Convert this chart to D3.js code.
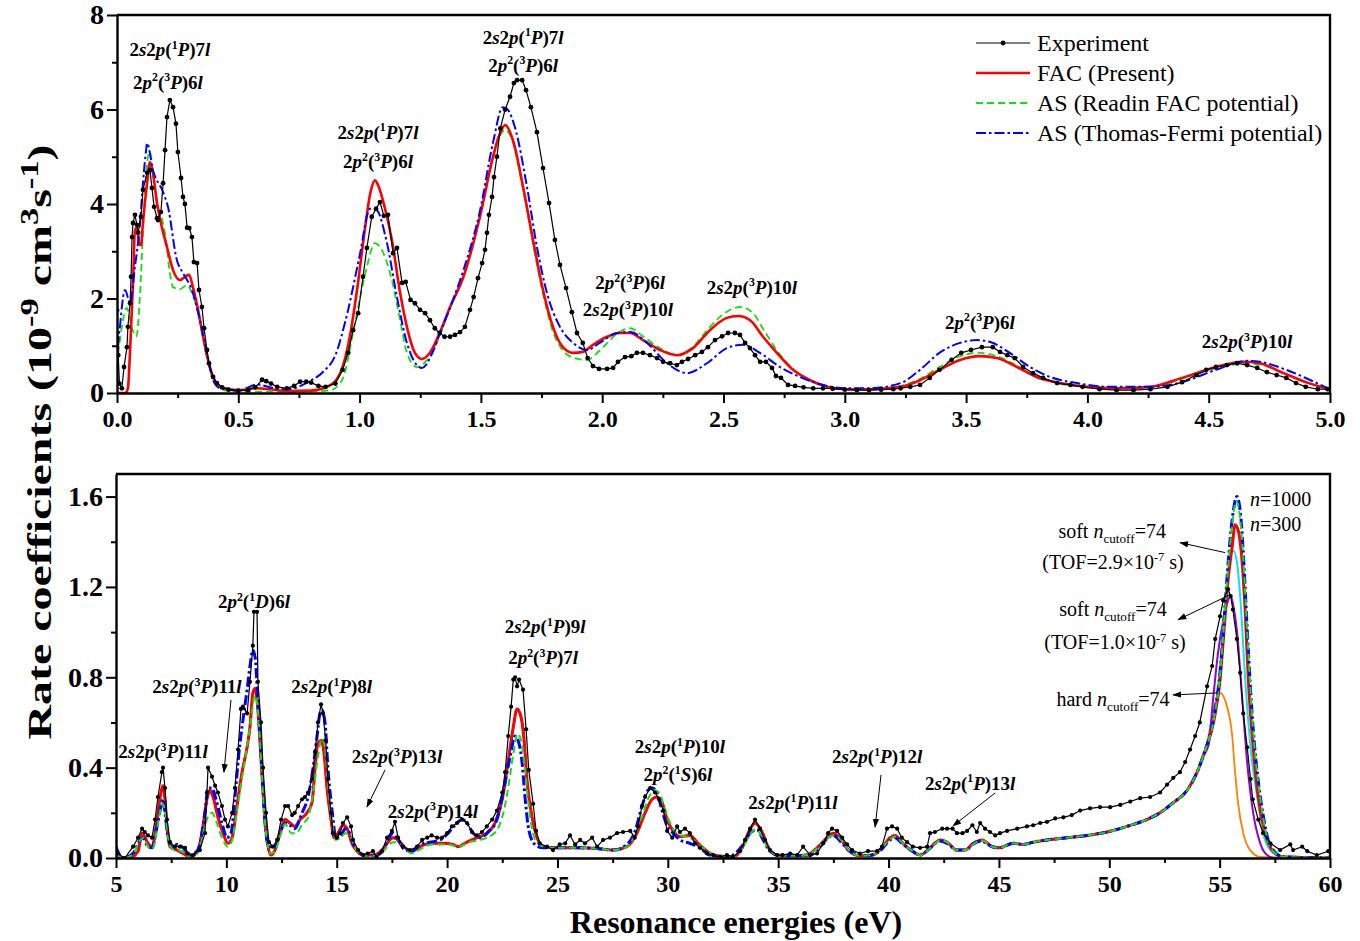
<!DOCTYPE html>
<html>
<head>
<meta charset="utf-8">
<script src="https://cdn.jsdelivr.net/npm/d3@7"></script>
<style>
  body { margin: 0; background: #fff; }
  svg { font-family: "Liberation Serif", "Times New Roman", serif; }
</style>
</head>
<body>
<svg id="chart" width="1360" height="941"></svg>
<script>
// ---- data: [energy (eV), rate (1e-9 cm3/s)] ----
const topExp = [[0,1.75],[0.005,0.8],[0.01,0.2],[0.02,0.1],[0.029,0.55],[0.041,0.97],[0.045,1.4],[0.054,1.9],[0.058,2.46],[0.062,3.3],[0.066,3.6],[0.074,3.77],[0.082,3.56],[0.087,3.39],[0.099,3.73],[0.107,4.3],[0.124,4.66],[0.136,4.72],[0.144,4.34],[0.153,3.94],[0.165,3.7],[0.169,3.66],[0.181,3.83],[0.19,4.44],[0.198,5.14],[0.206,5.84],[0.218,6.2],[0.231,6.05],[0.243,5.7],[0.251,5.1],[0.264,4.55],[0.272,4.15],[0.28,4.0],[0.289,3.5],[0.298,3.49],[0.309,3.3],[0.317,2.77],[0.33,2.75],[0.338,2.18],[0.35,1.82],[0.359,1.37],[0.371,0.91],[0.379,0.63],[0.396,0.34],[0.412,0.21],[0.433,0.12],[0.46,0.07],[0.5,0.05],[0.54,0.06],[0.57,0.12],[0.598,0.28],[0.615,0.25],[0.635,0.2],[0.66,0.13],[0.7,0.1],[0.73,0.15],[0.755,0.24],[0.78,0.24],[0.8,0.22],[0.83,0.15],[0.86,0.13],[0.9,0.2],[0.93,0.49],[0.953,0.85],[0.973,1.33],[0.994,1.69],[1.014,2.46],[1.03,3.07],[1.05,3.73],[1.068,3.9],[1.084,4.04],[1.1,3.75],[1.117,3.77],[1.138,2.96],[1.154,3.07],[1.175,2.33],[1.19,2.35],[1.21,1.97],[1.228,1.9],[1.249,1.76],[1.27,1.69],[1.29,1.54],[1.31,1.37],[1.33,1.27],[1.35,1.19],[1.373,1.19],[1.393,1.23],[1.414,1.29],[1.434,1.4],[1.455,1.76],[1.47,2.03],[1.488,2.43],[1.505,2.75],[1.517,3.03],[1.525,3.39],[1.533,3.77],[1.546,4.15],[1.554,4.57],[1.566,5.0],[1.58,5.6],[1.6,6.0],[1.62,6.27],[1.636,6.56],[1.649,6.62],[1.67,6.62],[1.686,6.41],[1.706,6.05],[1.731,5.52],[1.756,4.76],[1.781,4.02],[1.805,3.24],[1.826,2.71],[1.851,2.22],[1.875,1.71],[1.896,1.27],[1.92,1.06],[1.94,0.74],[1.962,0.57],[1.987,0.51],[2.02,0.51],[2.045,0.53],[2.065,0.66],[2.094,0.76],[2.12,0.78],[2.143,0.85],[2.168,0.85],[2.197,0.8],[2.226,0.74],[2.251,0.66],[2.28,0.63],[2.308,0.59],[2.329,0.66],[2.354,0.72],[2.383,0.8],[2.411,0.87],[2.436,0.97],[2.465,1.12],[2.494,1.2],[2.519,1.27],[2.547,1.27],[2.568,1.23],[2.589,1.06],[2.609,0.95],[2.63,0.8],[2.651,0.66],[2.675,0.66],[2.7,0.53],[2.716,0.36],[2.737,0.32],[2.766,0.17],[2.795,0.15],[2.83,0.12],[2.87,0.1],[2.91,0.1],[2.95,0.09],[3.0,0.07],[3.05,0.06],[3.1,0.06],[3.15,0.07],[3.2,0.08],[3.23,0.1],[3.27,0.13],[3.31,0.17],[3.35,0.32],[3.39,0.49],[3.44,0.7],[3.48,0.85],[3.52,0.91],[3.565,0.97],[3.61,0.97],[3.64,0.87],[3.67,0.8],[3.7,0.74],[3.735,0.55],[3.776,0.42],[3.817,0.32],[3.875,0.21],[3.93,0.17],[3.98,0.13],[4.05,0.08],[4.12,0.06],[4.19,0.06],[4.26,0.08],[4.33,0.13],[4.39,0.23],[4.45,0.38],[4.49,0.49],[4.53,0.55],[4.575,0.59],[4.617,0.63],[4.658,0.59],[4.7,0.53],[4.74,0.44],[4.78,0.38],[4.82,0.32],[4.86,0.21],[4.9,0.13],[4.95,0.08],[4.99,0.08]];

const topFac = [[0,0],[0.035,0],[0.045,0.1],[0.054,0.91],[0.066,2.33],[0.074,3.45],[0.082,3.5],[0.092,3.15],[0.099,3.13],[0.107,3.6],[0.124,4.44],[0.136,4.89],[0.148,4.66],[0.165,4.02],[0.185,3.51],[0.206,3.09],[0.231,2.6],[0.26,2.39],[0.28,2.46],[0.297,2.5],[0.313,2.24],[0.334,1.76],[0.355,1.19],[0.375,0.7],[0.396,0.34],[0.416,0.17],[0.445,0.1],[0.495,0.06],[0.577,0.1],[0.63,0.08],[0.7,0.04],[0.8,0.05],[0.85,0.1],[0.9,0.25],[0.93,0.55],[0.96,1.2],[0.99,2.2],[1.02,3.4],[1.045,4.25],[1.063,4.5],[1.08,4.35],[1.1,4.0],[1.133,3.24],[1.167,2.12],[1.195,1.4],[1.228,0.85],[1.257,0.72],[1.29,0.85],[1.33,1.27],[1.373,1.82],[1.428,2.46],[1.496,3.73],[1.55,5.0],[1.575,5.45],[1.6,5.67],[1.632,5.35],[1.674,4.36],[1.715,3.24],[1.756,2.18],[1.797,1.4],[1.838,0.97],[1.88,0.85],[1.92,0.87],[1.962,1.02],[2.02,1.19],[2.073,1.27],[2.115,1.27],[2.168,1.12],[2.238,0.91],[2.308,0.8],[2.374,0.95],[2.444,1.33],[2.514,1.59],[2.56,1.63],[2.61,1.54],[2.663,1.19],[2.72,0.85],[2.787,0.49],[2.857,0.27],[2.927,0.13],[3.0,0.08],[3.1,0.08],[3.23,0.13],[3.31,0.27],[3.39,0.49],[3.475,0.7],[3.557,0.78],[3.627,0.74],[3.71,0.55],[3.79,0.34],[3.887,0.21],[4.0,0.13],[4.12,0.1],[4.26,0.13],[4.39,0.32],[4.53,0.55],[4.64,0.66],[4.71,0.63],[4.8,0.44],[4.9,0.23],[5.0,0.08]];

const topAsReadin = [[0,0.6],[0.02,1.4],[0.04,1.8],[0.06,1.4],[0.08,1.2],[0.095,2.1],[0.107,3.4],[0.124,4.87],[0.135,5.1],[0.15,4.6],[0.165,4.0],[0.185,3.7],[0.2,3.3],[0.218,2.54],[0.231,2.24],[0.26,2.2],[0.289,2.28],[0.31,2.1],[0.334,1.7],[0.355,1.15],[0.375,0.65],[0.396,0.3],[0.42,0.12],[0.45,0.05],[0.5,0.02],[0.6,0.03],[0.7,0.02],[0.8,0.03],[0.88,0.06],[0.93,0.3],[0.973,1.27],[1.0,1.97],[1.03,2.67],[1.063,3.17],[1.098,2.96],[1.133,2.39],[1.167,1.54],[1.195,0.85],[1.236,0.55],[1.278,0.7],[1.33,1.2],[1.373,1.82],[1.428,2.46],[1.496,3.73],[1.55,5.0],[1.575,5.4],[1.6,5.57],[1.632,5.3],[1.674,4.3],[1.715,3.15],[1.756,2.1],[1.797,1.3],[1.838,0.9],[1.88,0.75],[1.937,0.7],[1.99,0.9],[2.06,1.25],[2.115,1.37],[2.168,1.2],[2.238,0.95],[2.308,0.8],[2.374,0.98],[2.444,1.4],[2.514,1.72],[2.568,1.82],[2.62,1.7],[2.67,1.3],[2.72,0.9],[2.787,0.5],[2.857,0.27],[2.927,0.13],[3.0,0.08],[3.1,0.08],[3.23,0.15],[3.31,0.3],[3.39,0.55],[3.475,0.78],[3.557,0.85],[3.627,0.78],[3.71,0.58],[3.79,0.36],[3.887,0.2],[4.0,0.12],[4.12,0.09],[4.26,0.12],[4.39,0.3],[4.53,0.52],[4.64,0.62],[4.71,0.6],[4.8,0.44],[4.9,0.23],[5.0,0.08]];

const topAsTF = [[0,0.2],[0.005,1.0],[0.012,1.4],[0.033,2.18],[0.054,1.9],[0.074,2.67],[0.095,3.6],[0.107,4.44],[0.12,5.14],[0.124,5.29],[0.148,4.72],[0.19,4.25],[0.21,3.94],[0.247,2.81],[0.272,2.54],[0.309,2.18],[0.342,1.54],[0.371,0.85],[0.396,0.27],[0.425,0.1],[0.5,0.05],[0.577,0.18],[0.65,0.1],[0.7,0.08],[0.795,0.25],[0.85,0.45],[0.9,0.8],[0.95,1.7],[1.0,2.9],[1.043,3.9],[1.07,3.87],[1.11,3.24],[1.154,2.03],[1.195,1.06],[1.257,0.53],[1.3,0.85],[1.33,1.25],[1.38,1.9],[1.428,2.6],[1.496,3.85],[1.55,5.3],[1.59,6.05],[1.61,6.0],[1.64,5.63],[1.69,4.36],[1.731,3.09],[1.772,2.12],[1.826,1.4],[1.88,1.06],[1.937,0.91],[1.99,1.06],[2.06,1.27],[2.115,1.29],[2.185,1.06],[2.267,0.63],[2.35,0.42],[2.432,0.63],[2.514,0.95],[2.58,1.02],[2.65,0.85],[2.733,0.55],[2.815,0.34],[2.927,0.15],[3.0,0.1],[3.1,0.1],[3.23,0.21],[3.31,0.49],[3.39,0.85],[3.475,1.06],[3.545,1.12],[3.6,1.08],[3.68,0.85],[3.763,0.55],[3.846,0.34],[3.957,0.21],[4.09,0.13],[4.26,0.13],[4.39,0.23],[4.53,0.49],[4.66,0.68],[4.71,0.66],[4.82,0.49],[4.92,0.27],[5.0,0.08]];

const botExp = [[5.05,0.02],[5.4,0.0],[5.77,0.05],[6.0,0.09],[6.18,0.13],[6.3,0.115],[6.45,0.1],[6.63,0.09],[6.77,0.17],[6.9,0.27],[7.08,0.38],[7.13,0.4],[7.22,0.31],[7.31,0.17],[7.45,0.07],[7.67,0.05],[7.9,0.05],[8.13,0.045],[8.26,0.02],[8.49,0.013],[8.8,0.035],[9.03,0.11],[9.12,0.29],[9.17,0.4],[9.35,0.36],[9.49,0.32],[9.62,0.29],[9.8,0.23],[9.94,0.17],[10.07,0.14],[10.26,0.2],[10.39,0.31],[10.53,0.48],[10.66,0.66],[10.75,0.67],[10.94,0.64],[11.07,0.78],[11.2,0.94],[11.25,1.09],[11.39,1.09],[11.43,0.78],[11.57,0.6],[11.66,0.4],[11.8,0.2],[11.93,0.07],[12.11,0.05],[12.3,0.08],[12.48,0.17],[12.66,0.23],[12.8,0.23],[12.98,0.19],[13.1,0.2],[13.25,0.23],[13.43,0.26],[13.56,0.27],[13.7,0.29],[13.88,0.35],[14.02,0.47],[14.15,0.6],[14.29,0.68],[14.38,0.64],[14.5,0.52],[14.6,0.35],[14.74,0.2],[14.83,0.11],[15.0,0.09],[15.15,0.11],[15.28,0.155],[15.47,0.18],[15.65,0.14],[15.74,0.08],[15.97,0.035],[16.2,0.013],[16.4,0.02],[16.64,0.03],[16.8,0.005],[17.05,0.03],[17.28,0.09],[17.5,0.12],[17.64,0.16],[17.78,0.09],[18.0,0.05],[18.32,0.035],[18.64,0.05],[18.87,0.08],[19.1,0.09],[19.3,0.1],[19.55,0.09],[19.77,0.09],[20.0,0.11],[20.22,0.14],[20.45,0.155],[20.68,0.17],[20.9,0.155],[21.13,0.115],[21.36,0.1],[21.58,0.115],[21.8,0.14],[22.04,0.17],[22.26,0.21],[22.5,0.29],[22.63,0.38],[22.77,0.54],[22.9,0.67],[23.0,0.79],[23.08,0.8],[23.17,0.76],[23.26,0.79],[23.44,0.745],[23.58,0.57],[23.7,0.39],[23.9,0.24],[24.03,0.12],[24.2,0.065],[24.53,0.05],[24.8,0.035],[25.1,0.06],[25.35,0.065],[25.57,0.1],[25.8,0.06],[26.03,0.08],[26.25,0.065],[26.57,0.09],[26.8,0.05],[27.07,0.08],[27.38,0.09],[27.7,0.11],[27.97,0.115],[28.3,0.12],[28.5,0.09],[28.65,0.14],[28.83,0.23],[28.97,0.27],[29.2,0.31],[29.42,0.29],[29.6,0.26],[29.8,0.21],[29.97,0.12],[30.2,0.09],[30.42,0.14],[30.55,0.115],[30.78,0.13],[31.0,0.11],[31.23,0.065],[31.46,0.045],[31.78,0.02],[32.05,0.013],[32.37,0.005],[32.68,0.013],[32.95,0.005],[33.27,0.03],[33.5,0.08],[33.73,0.13],[33.95,0.17],[34.18,0.13],[34.4,0.08],[34.63,0.035],[34.95,0.013],[35.2,0.013],[35.54,0.02],[35.86,0.013],[36.13,0.05],[36.45,0.013],[36.76,0.02],[37.04,0.065],[37.26,0.11],[37.44,0.13],[37.67,0.12],[37.9,0.09],[38.12,0.06],[38.35,0.035],[38.7,0.02],[39.07,0.03],[39.48,0.03],[39.7,0.05],[39.93,0.13],[40.16,0.14],[40.39,0.13],[40.6,0.09],[40.84,0.07],[41.1,0.05],[41.43,0.045],[41.75,0.05],[41.88,0.11],[42.1,0.115],[42.43,0.13],[42.65,0.13],[42.9,0.13],[43.1,0.11],[43.35,0.11],[43.56,0.12],[43.8,0.145],[44.0,0.115],[44.15,0.155],[44.37,0.13],[44.6,0.115],[44.83,0.1],[45.05,0.11],[45.37,0.12],[45.83,0.13],[46.27,0.14],[46.55,0.145],[46.87,0.155],[47.18,0.16],[47.55,0.175],[47.92,0.18],[48.3,0.19],[48.68,0.21],[49.13,0.22],[49.58,0.225],[50.04,0.225],[50.5,0.235],[50.95,0.25],[51.4,0.265],[51.85,0.27],[52.3,0.29],[52.62,0.325],[52.9,0.355],[53.2,0.38],[53.44,0.425],[53.66,0.48],[53.89,0.54],[54.1,0.6],[54.43,0.76],[54.66,0.85],[54.8,0.97],[55.02,1.07],[55.16,1.14],[55.38,1.19],[55.5,1.16],[55.6,1.1],[55.78,0.97],[55.93,0.82],[56.07,0.64],[56.25,0.49],[56.4,0.35],[56.5,0.26],[56.75,0.17],[56.97,0.11],[57.3,0.065],[57.74,0.035],[58.2,0.06],[58.33,0.035],[58.74,0.05],[58.97,0.03],[59.4,0.013],[59.92,0.03]];

const botFacHead = [[5.0,0.0],[5.6,0.0],[6.0,0.03],[6.18,0.11],[6.45,0.065],[6.63,0.05],[6.86,0.17],[7.0,0.27],[7.13,0.32],[7.22,0.26],[7.31,0.14],[7.45,0.05],[7.76,0.035],[8.04,0.02],[8.35,0.005],[8.7,0.03],[8.94,0.14],[9.12,0.26],[9.26,0.3],[9.4,0.27],[9.62,0.18],[9.85,0.11],[10.07,0.065],[10.26,0.09],[10.48,0.23],[10.71,0.38],[10.94,0.49],[11.07,0.58],[11.2,0.73],[11.3,0.75],[11.39,0.7],[11.52,0.52],[11.66,0.29],[11.84,0.08],[12.02,0.013],[12.2,0.035],[12.43,0.11],[12.66,0.17],[12.88,0.155],[13.1,0.14],[13.34,0.17],[13.65,0.2],[13.88,0.245],[14.02,0.4],[14.15,0.51],[14.29,0.52],[14.42,0.47],[14.56,0.31],[14.74,0.17],[14.88,0.09],[15.06,0.11],[15.28,0.145],[15.47,0.13],[15.69,0.065],[15.92,0.03],[16.2,0.013],[16.64,0.013],[17.05,0.035],[17.28,0.065],[17.55,0.09],[17.78,0.08],[18.1,0.045],[18.41,0.03],[18.77,0.05],[19.23,0.065],[19.82,0.065],[20.27,0.06],[20.5,0.05],[20.9,0.07],[21.36,0.09],[21.8,0.11],[22.17,0.155],[22.5,0.26],[22.77,0.43],[23.0,0.58],[23.17,0.66],[23.35,0.625],[23.49,0.52],[23.62,0.345],[23.85,0.18],[24.08,0.09],[24.35,0.05],[24.98,0.045],[26.0,0.045],[27.0,0.04],[27.52,0.035],[28.15,0.05],[28.6,0.11],[28.97,0.2],[29.29,0.26],[29.5,0.27],[29.74,0.245],[29.97,0.17],[30.24,0.12],[30.55,0.095],[31.0,0.1],[31.37,0.065],[31.78,0.03],[32.23,0.01],[32.95,0.005],[33.37,0.045],[33.64,0.11],[33.95,0.155],[34.27,0.115],[34.54,0.05],[34.95,0.013],[35.68,0.01],[36.3,0.013],[36.76,0.045],[37.22,0.09],[37.48,0.11],[37.8,0.09],[38.17,0.035],[38.7,0.01],[39.3,0.013],[39.7,0.045],[40.07,0.09],[40.3,0.1],[40.6,0.07],[41.07,0.03],[41.43,0.013],[41.88,0.045],[42.34,0.08],[42.65,0.07],[43.1,0.035],[43.47,0.035],[43.83,0.065],[44.24,0.08],[44.7,0.05],[45.05,0.045]];

const botAsReadinHead = [[5.0,0.02],[5.4,0.0],[5.8,0.02],[6.1,0.08],[6.25,0.09],[6.45,0.05],[6.65,0.04],[6.9,0.15],[7.1,0.24],[7.2,0.22],[7.35,0.1],[7.55,0.04],[8.0,0.03],[8.4,0.0],[8.75,0.03],[9.0,0.13],[9.2,0.19],[9.35,0.2],[9.55,0.16],[9.8,0.09],[10.07,0.05],[10.26,0.08],[10.5,0.22],[10.75,0.38],[10.95,0.5],[11.1,0.6],[11.3,0.72],[11.4,0.68],[11.55,0.48],[11.7,0.22],[11.85,0.07],[12.0,0.02],[12.2,0.03],[12.45,0.1],[12.66,0.15],[12.95,0.11],[13.15,0.11],[13.45,0.15],[13.7,0.18],[13.95,0.3],[14.15,0.45],[14.33,0.53],[14.45,0.5],[14.6,0.33],[14.8,0.15],[14.95,0.08],[15.15,0.09],[15.4,0.11],[15.6,0.1],[15.8,0.05],[16.2,0.01],[16.8,0.01],[17.2,0.04],[17.55,0.07],[17.8,0.07],[18.1,0.04],[18.4,0.02],[18.8,0.04],[19.3,0.06],[20.0,0.06],[20.5,0.05],[21.0,0.07],[21.5,0.08],[22.0,0.1],[22.3,0.13],[22.55,0.2],[22.8,0.33],[23.0,0.46],[23.2,0.55],[23.35,0.52],[23.5,0.42],[23.65,0.27],[23.85,0.13],[24.05,0.07],[24.4,0.05],[25.0,0.045],[26.0,0.045],[27.0,0.04],[27.5,0.035],[28.15,0.05],[28.5,0.1],[28.85,0.19],[29.15,0.27],[29.4,0.3],[29.6,0.29],[29.8,0.24],[30.0,0.18],[30.3,0.12],[30.6,0.1],[31.0,0.09],[31.4,0.06],[31.8,0.03],[32.3,0.01],[33.0,0.005],[33.4,0.045],[33.7,0.1],[33.95,0.125],[34.25,0.1],[34.55,0.045],[35.0,0.013],[35.7,0.01],[36.3,0.013],[36.8,0.045],[37.25,0.09],[37.48,0.1],[37.8,0.085],[38.2,0.035],[38.7,0.01],[39.3,0.013],[39.7,0.045],[40.1,0.085],[40.3,0.095],[40.6,0.07],[41.1,0.03],[41.45,0.013],[41.9,0.045],[42.35,0.078],[42.65,0.07],[43.1,0.035],[43.5,0.035],[43.85,0.062],[44.25,0.078],[44.7,0.05],[45.05,0.045]];

const botAsTFHead = [[5.0,0.05],[5.3,0.0],[5.77,0.02],[6.09,0.08],[6.22,0.09],[6.45,0.05],[6.63,0.045],[6.86,0.14],[7.04,0.23],[7.13,0.26],[7.22,0.2],[7.36,0.09],[7.58,0.05],[7.76,0.06],[7.99,0.05],[8.35,0.013],[8.7,0.035],[9.03,0.2],[9.17,0.31],[9.35,0.31],[9.53,0.26],[9.8,0.155],[10.03,0.09],[10.21,0.11],[10.39,0.27],[10.57,0.465],[10.75,0.61],[10.94,0.745],[11.07,0.85],[11.2,0.92],[11.3,0.89],[11.43,0.69],[11.62,0.38],[11.75,0.155],[11.93,0.05],[12.2,0.05],[12.43,0.11],[12.66,0.155],[12.88,0.145],[13.1,0.13],[13.43,0.2],[13.7,0.27],[13.93,0.4],[14.11,0.54],[14.24,0.64],[14.33,0.655],[14.47,0.6],[14.6,0.4],[14.79,0.21],[14.97,0.09],[15.15,0.09],[15.38,0.13],[15.56,0.115],[15.74,0.065],[15.97,0.03],[16.37,0.01],[16.83,0.013],[17.19,0.05],[17.32,0.08],[17.55,0.11],[17.78,0.08],[18.1,0.035],[18.41,0.03],[18.77,0.06],[19.23,0.07],[19.68,0.08],[20.04,0.11],[20.36,0.145],[20.68,0.17],[20.9,0.155],[21.18,0.11],[21.5,0.09],[21.86,0.115],[22.26,0.17],[22.54,0.29],[22.86,0.45],[23.08,0.54],[23.22,0.52],[23.4,0.42],[23.53,0.27],[23.71,0.12],[23.98,0.06],[24.35,0.045],[25.0,0.045],[26.0,0.045],[27.0,0.04],[27.52,0.035],[28.15,0.06],[28.52,0.12],[28.83,0.23],[29.1,0.3],[29.29,0.31],[29.5,0.29],[29.74,0.21],[29.97,0.14],[30.24,0.11],[30.55,0.08],[31.0,0.065],[31.46,0.045],[31.91,0.013],[32.68,0.005],[33.42,0.06],[33.73,0.11],[34.04,0.125],[34.32,0.08],[34.63,0.03],[35.09,0.01],[36.45,0.013],[36.9,0.05],[37.26,0.09],[37.48,0.1],[37.9,0.065],[38.26,0.03],[39.0,0.01],[39.6,0.03],[40.07,0.08],[40.3,0.09],[40.6,0.065],[41.1,0.03],[41.4,0.013],[41.9,0.045],[42.3,0.075],[42.65,0.065],[43.1,0.035],[43.5,0.035],[43.8,0.06],[44.2,0.075],[44.7,0.05],[45.05,0.045]];

// smooth rise shared by all calculations between 45 and 54 eV
const botTail = [[45.2,0.05],[45.65,0.065],[46.1,0.06],[46.55,0.07],[47.18,0.08],[48.1,0.09],[49.0,0.1],[49.9,0.115],[50.8,0.14],[51.7,0.17],[52.3,0.2],[52.9,0.245],[53.53,0.3],[53.98,0.38],[54.25,0.45]];

const botFacPeak = [[54.8,0.64],[55.02,0.79],[55.2,1.01],[55.38,1.23],[55.57,1.38],[55.7,1.475],[55.84,1.45],[56.02,1.31],[56.16,1.09],[56.3,0.79],[56.52,0.49],[56.75,0.27],[57.06,0.11],[57.38,0.035],[57.88,0.005],[60,0]];
const botAsReadinPeak = [[54.8,0.65],[55.02,0.81],[55.2,1.04],[55.38,1.28],[55.57,1.48],[55.75,1.58],[55.93,1.5],[56.1,1.28],[56.25,1.0],[56.52,0.56],[56.75,0.33],[56.97,0.18],[57.2,0.07],[57.43,0.03],[57.9,0.005],[60,0]];
const botAsTFPeak = [[54.8,0.66],[55.02,0.82],[55.2,1.05],[55.38,1.3],[55.57,1.5],[55.78,1.6],[55.95,1.52],[56.1,1.3],[56.25,1.01],[56.52,0.57],[56.75,0.34],[56.97,0.19],[57.2,0.08],[57.43,0.035],[57.9,0.005],[60,0]];
const botSoftTof29Peak = [[54.8,0.66],[55.02,0.85],[55.2,1.08],[55.4,1.28],[55.62,1.36],[55.8,1.3],[55.93,1.16],[56.16,0.79],[56.4,0.49],[56.7,0.27],[56.97,0.11],[57.3,0.035],[57.8,0.005],[60,0]];
const botSoftTof10Peak = [[54.5,0.5],[54.7,0.7],[54.93,0.91],[55.16,1.05],[55.35,1.13],[55.5,1.16],[55.65,1.1],[55.78,1.01],[56.02,0.71],[56.25,0.42],[56.52,0.2],[56.84,0.065],[57.15,0.013],[57.5,0],[60,0]];
const botHardPeak = [[54.3,0.46],[54.57,0.58],[54.7,0.65],[54.89,0.71],[55.05,0.73],[55.2,0.71],[55.34,0.67],[55.57,0.54],[55.7,0.38],[55.84,0.24],[56.07,0.11],[56.38,0.035],[56.84,0.005],[60,0]];

// ticks
const topXMajor = [0, 0.5, 1.0, 1.5, 2.0, 2.5, 3.0, 3.5, 4.0, 4.5, 5.0];
const topXMinor = [0.25, 0.75, 1.25, 1.75, 2.25, 2.75, 3.25, 3.75, 4.25, 4.75];
const topYMajor = [0, 2, 4, 6, 8];
const topYMinor = [1, 3, 5, 7];
const botXMajor = [5, 10, 15, 20, 25, 30, 35, 40, 45, 50, 55, 60];
const botXMinor = [7.5, 12.5, 17.5, 22.5, 27.5, 32.5, 37.5, 42.5, 47.5, 52.5, 57.5];
const botYMajor = [0, 0.4, 0.8, 1.2, 1.6];
const botYMinor = [0.2, 0.6, 1.0, 1.4];

const legendLabels = ["Experiment", "FAC (Present)", "AS (Readin FAC potential)", "AS (Thomas-Fermi potential)"];

// annotations: [E, rate, markup]   *italic*  ^sup^  _sub_
const topNotes = [
  [0.218, 7.26, "2*s*2*p*(^1^*P*)7*l*"], [0.21, 6.58, "2*p*^2^(^3^*P*)6*l*"],
  [1.076, 5.52, "2*s*2*p*(^1^*P*)7*l*"], [1.076, 4.89, "2*p*^2^(^3^*P*)6*l*"],
  [1.674, 7.53, "2*s*2*p*(^1^*P*)7*l*"], [1.674, 6.94, "2*p*^2^(^3^*P*)6*l*"],
  [2.115, 2.33, "2*p*^2^(^3^*P*)6*l*"], [2.106, 1.76, "2*s*2*p*(^3^*P*)10*l*"],
  [2.617, 2.24, "2*s*2*p*(^3^*P*)10*l*"],
  [3.557, 1.5, "2*p*^2^(^3^*P*)6*l*"],
  [4.658, 1.08, "2*s*2*p*(^3^*P*)10*l*"]
];
const botNotes = [
  [7.13, 0.47, "2*s*2*p*(^3^*P*)11*l*"], [8.67, 0.758, "2*s*2*p*(^3^*P*)11*l*"],
  [11.25, 1.135, "2*p*^2^(^1^*D*)6*l*"], [14.77, 0.76, "2*s*2*p*(^1^*P*)8*l*"],
  [17.73, 0.448, "2*s*2*p*(^3^*P*)13*l*"], [19.36, 0.208, "2*s*2*p*(^3^*P*)14*l*"],
  [24.44, 1.024, "2*s*2*p*(^1^*P*)9*l*"], [24.35, 0.887, "2*p*^2^(^3^*P*)7*l*"],
  [30.55, 0.492, "2*s*2*p*(^1^*P*)10*l*"], [30.46, 0.368, "2*p*^2^(^1^*S*)6*l*"],
  [35.67, 0.244, "2*s*2*p*(^1^*P*)11*l*"], [39.48, 0.448, "2*s*2*p*(^1^*P*)12*l*"],
  [43.7, 0.332, "2*s*2*p*(^1^*P*)13*l*"]
];
const cutoffNotes = [
  [50.13, 1.445, "soft *n*_cutoff_=74"], [50.17, 1.308, "(TOF=2.9×10^-7^ s)"],
  [50.17, 1.099, "soft *n*_cutoff_=74"], [50.26, 0.953, "(TOF=1.0×10^-7^ s)"],
  [50.17, 0.70, "hard *n*_cutoff_=74"]
];
const nNotes = [[56.38, 1.587, "*n*=1000"], [56.38, 1.476, "*n*=300"]];
const botArrows = [
  [[10.21, 0.70], [9.89, 0.38]], [[17.19, 0.39], [16.37, 0.226]],
  [[39.66, 0.368], [39.39, 0.137]], [[44.83, 0.288], [42.92, 0.142]],
  [[55.25, 1.352], [53.21, 1.396]], [[55.48, 1.166], [53.12, 1.055]],
  [[54.93, 0.731], [52.89, 0.722]]
];

// ---- layout ----
const topBox = {left: 117, right: 1330, top: 15, bottom: 393};
const botBox = {left: 116, right: 1330, top: 474, bottom: 858};

const svg = d3.select("#chart");

const xTop = d3.scaleLinear().domain([0, 5]).range([topBox.left, topBox.right]);
const yTop = d3.scaleLinear().domain([0, 8]).range([topBox.bottom, topBox.top]);
const xBot = d3.scaleLinear().domain([5, 60]).range([botBox.left, botBox.right]);
const yBot = d3.scaleLinear().domain([0, 1.7]).range([botBox.bottom, botBox.top]);

const defs = svg.append("defs");
[["clipTop", topBox], ["clipBot", botBox]].forEach(([id, b]) => {
  defs.append("clipPath").attr("id", id).append("rect")
    .attr("x", b.left).attr("y", b.top).attr("width", b.right - b.left).attr("height", b.bottom - b.top);
});
defs.append("marker").attr("id", "arrow").attr("viewBox", "0 0 10 10")
  .attr("refX", 9).attr("refY", 5).attr("markerWidth", 9).attr("markerHeight", 9)
  .attr("markerUnits", "userSpaceOnUse").attr("orient", "auto")
  .append("path").attr("d", "M0,1.5 L10,5 L0,8.5 Z").attr("fill", "#000");

// rich text: *italic*, ^superscript^, _subscript_
function rich(t, markup, fs, supScale = 0.62) {
  const parts = markup.split(/(\*[^*]*\*|\^[^^]*\^|_[^_]*_)/).filter(s => s.length);
  let shift = 0;
  parts.forEach(p => {
    let txt = p, style = "normal", target = 0, size = fs;
    if (p[0] === "*") { txt = p.slice(1, -1); style = "italic"; }
    else if (p[0] === "^") { txt = p.slice(1, -1); target = -0.38 * fs; size = supScale * fs; }
    else if (p[0] === "_") { txt = p.slice(1, -1); target = 0.24 * fs; size = 0.66 * fs; }
    t.append("tspan").attr("dy", target - shift).attr("font-size", size)
      .attr("font-style", style).text(txt);
    shift = target;
  });
}

const line = (x, y, curve) => d3.line().x(d => x(d[0])).y(d => y(d[1])).curve(curve);

function drawAxes(x, y, box, xMajor, xMinor, yMajor, yMinor, xFmt, yFmt) {
  const gx = svg.append("g").attr("transform", `translate(0,${box.bottom})`)
    .call(d3.axisBottom(x).tickValues(xMajor).tickFormat(xFmt).tickSize(10).tickPadding(7).tickSizeOuter(0));
  svg.append("g").attr("transform", `translate(0,${box.bottom})`)
    .call(d3.axisBottom(x).tickValues(xMinor).tickFormat("").tickSize(5))
    .call(g => g.select(".domain").remove());
  const gy = svg.append("g").attr("transform", `translate(${box.left},0)`)
    .call(d3.axisLeft(y).tickValues(yMajor).tickFormat(yFmt).tickSize(10).tickPadding(3).tickSizeOuter(0));
  svg.append("g").attr("transform", `translate(${box.left},0)`)
    .call(d3.axisLeft(y).tickValues(yMinor).tickFormat("").tickSize(5))
    .call(g => g.select(".domain").remove());
  svg.selectAll(".tick line").attr("stroke-width", 2);
  [[gx, 24], [gy, 28]].forEach(([g, fs]) => {
    g.select(".domain").attr("stroke-width", 2.4);
    g.selectAll("text").attr("font-family", "Liberation Serif").attr("font-weight", "bold")
      .attr("font-size", fs).attr("fill", "#000");
  });
  svg.append("path")
    .attr("d", `M${box.left},${box.top}H${box.right}V${box.bottom}`)
    .attr("fill", "none").attr("stroke", "#000").attr("stroke-width", 2.4);
}

const styles = {
  fac: {color: "#ff0000", dash: null},
  readin: {color: "#11e011", dash: "7,4"},
  tf: {color: "#0000ff", dash: "10,3,2.5,3"}
};

// ---- top panel ----
const gTop = svg.append("g").attr("clip-path", "url(#clipTop)");
const lTop = line(xTop, yTop, d3.curveMonotoneX);
[[topAsReadin, styles.readin, 1.8], [topFac, styles.fac, 2.6], [topAsTF, styles.tf, 2]].forEach(([d, s, w]) => {
  gTop.append("path").datum(d).attr("fill", "none").attr("stroke", s.color)
    .attr("stroke-width", w).attr("stroke-dasharray", s.dash).attr("d", lTop);
});
gTop.append("path").datum(topExp).attr("fill", "none").attr("stroke", "#000")
  .attr("stroke-width", 1.2).attr("d", line(xTop, yTop, d3.curveLinear));
gTop.append("g").selectAll("circle").data(topExp).join("circle")
  .attr("cx", d => xTop(d[0])).attr("cy", d => yTop(d[1])).attr("r", 2.4).attr("fill", "#000");

drawAxes(xTop, yTop, topBox, topXMajor, topXMinor, topYMajor, topYMinor, d3.format(".1f"), d3.format("d"));

// legend
const legend = svg.append("g");
legendLabels.forEach((lab, i) => {
  const yy = 43 + i * 30;
  const s = [null, styles.fac, styles.readin, styles.tf][i];
  legend.append("line").attr("x1", 976).attr("x2", 1030).attr("y1", yy).attr("y2", yy)
    .attr("stroke", s ? s.color : "#000").attr("stroke-width", s ? (i === 1 ? 2.6 : 2) : 1.2)
    .attr("stroke-dasharray", s ? s.dash : null);
  if (!s) legend.append("circle").attr("cx", 1003).attr("cy", yy).attr("r", 2.4).attr("fill", "#000");
  legend.append("text").attr("x", 1037).attr("y", yy + 8).attr("font-size", 24).text(lab);
});

topNotes.forEach(([e, v, m]) => {
  const t = svg.append("text").attr("x", xTop(e)).attr("y", yTop(v) + 6.5)
    .attr("text-anchor", "middle").attr("font-weight", "bold").attr("font-size", 19);
  rich(t, m, 19);
});

// ---- bottom panel ----
const gBot = svg.append("g").attr("clip-path", "url(#clipBot)");
const lBot = line(xBot, yBot, d3.curveMonotoneX);
const botSeries = [
  [botFacHead.concat(botTail, botHardPeak), "#ff8000", null, 1.8],
  [botFacHead.concat(botTail, botSoftTof10Peak), "#9400d3", null, 2],
  [botFacHead.concat(botTail, botSoftTof29Peak), "#00e8ee", null, 2],
  [botFacHead.concat(botTail, botFacPeak), styles.fac.color, null, 3],
  [botAsTFHead.concat(botTail, botAsTFPeak), styles.tf.color, styles.tf.dash, 3],
  [botAsReadinHead.concat(botTail, botAsReadinPeak), styles.readin.color, styles.readin.dash, 2]
];
botSeries.forEach(([d, c, dash, w]) => {
  gBot.append("path").datum(d).attr("fill", "none").attr("stroke", c)
    .attr("stroke-width", w).attr("stroke-dasharray", dash).attr("d", lBot);
});
gBot.append("path").datum(botExp).attr("fill", "none").attr("stroke", "#000")
  .attr("stroke-width", 1.2).attr("d", line(xBot, yBot, d3.curveLinear));
gBot.append("g").selectAll("circle").data(botExp).join("circle")
  .attr("cx", d => xBot(d[0])).attr("cy", d => yBot(d[1])).attr("r", 2.1).attr("fill", "#000");

drawAxes(xBot, yBot, botBox, botXMajor, botXMinor, botYMajor, botYMinor, d3.format("d"), d3.format(".1f"));

botNotes.forEach(([e, v, m]) => {
  const t = svg.append("text").attr("x", xBot(e)).attr("y", yBot(v) + 6.5)
    .attr("text-anchor", "middle").attr("font-weight", "bold").attr("font-size", 19);
  rich(t, m, 19);
});
cutoffNotes.forEach(([e, v, m]) => {
  const t = svg.append("text").attr("x", xBot(e)).attr("y", yBot(v) + 6.5)
    .attr("text-anchor", "middle").attr("font-size", 20);
  rich(t, m, 20);
});
nNotes.forEach(([e, v, m]) => {
  const t = svg.append("text").attr("x", xBot(e)).attr("y", yBot(v) + 6.5)
    .attr("text-anchor", "start").attr("font-size", 20);
  rich(t, m, 20);
});
botArrows.forEach(([a, b]) => {
  svg.append("line").attr("x1", xBot(a[0])).attr("y1", yBot(a[1]))
    .attr("x2", xBot(b[0])).attr("y2", yBot(b[1]))
    .attr("stroke", "#000").attr("stroke-width", 1).attr("marker-end", "url(#arrow)");
});

// ---- axis titles ----
const xt = svg.append("text").attr("x", 736).attr("y", 933).attr("text-anchor", "middle")
  .attr("font-weight", "bold").attr("font-size", 32);
rich(xt, "Resonance energies (eV)", 32);
const yt = svg.append("text").attr("transform", "translate(51,442) rotate(-90)")
  .attr("text-anchor", "middle").attr("font-weight", "bold").attr("font-size", 34)
  .attr("textLength", 595).attr("lengthAdjust", "spacingAndGlyphs");
rich(yt, "Rate coefficients (10^-9^ cm^3^s^-1^)", 34, 0.72);
</script>
</body>
</html>
